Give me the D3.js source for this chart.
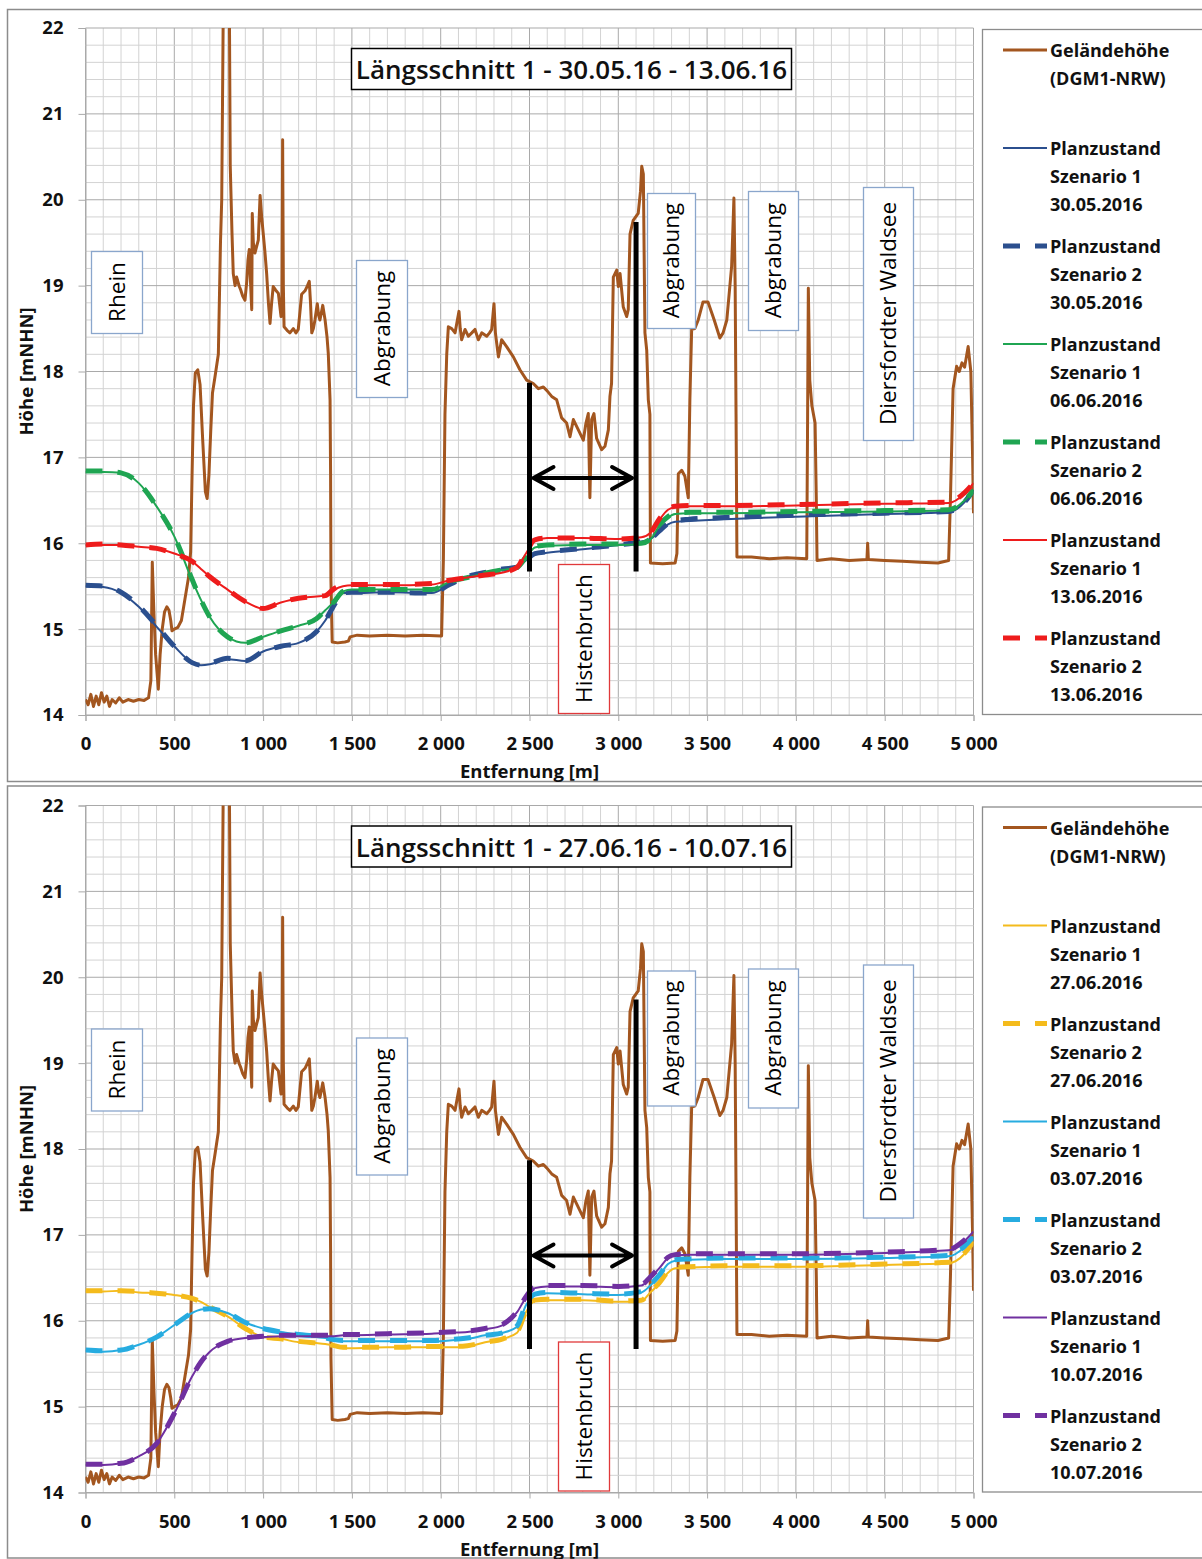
<!DOCTYPE html>
<html>
<head>
<meta charset="utf-8">
<script src="https://cdn.jsdelivr.net/npm/d3@7"></script>
<style>
  body { margin: 0; background: #fff; }
  svg { display: block; font-family: "Open Sans", "DejaVu Sans", sans-serif; }
</style>
</head>
<body>
<svg id="chart" width="1202" height="1559"></svg>
<script>
// distance [m] of the water level points
var wx = [0, 100, 200, 300, 400, 500, 600, 650, 700, 800, 900, 1000, 1100, 1200, 1300, 1350, 1400, 1450, 1500, 1700,
  1950, 2050, 2150, 2250, 2350, 2430, 2480, 2530, 2600, 2800, 3000, 3130, 3180, 3230, 3280, 3320, 3400, 3600, 4000, 4500,
  4860, 4950, 5000];

// panel 1 : 30.05.16 - 13.06.16
var s1_300516 = [15.50, 15.49, 15.42, 15.26, 15.03, 14.80, 14.61, 14.58, 14.59, 14.65, 14.63, 14.74, 14.80, 14.84, 14.97, 15.10, 15.28, 15.42, 15.42, 15.43,
  15.42, 15.52, 15.61, 15.66, 15.70, 15.72, 15.80, 15.87, 15.89, 15.93, 15.98, 16.02, 16.05, 16.13, 16.22, 16.25, 16.26, 16.28, 16.31, 16.34,
  16.36, 16.48, 16.62];
var s2_300516 = [15.51, 15.50, 15.43, 15.27, 15.04, 14.80, 14.61, 14.58, 14.60, 14.66, 14.63, 14.74, 14.80, 14.84, 14.97, 15.10, 15.28, 15.42, 15.43, 15.43,
  15.42, 15.52, 15.61, 15.66, 15.70, 15.72, 15.80, 15.88, 15.90, 15.94, 15.98, 16.02, 16.05, 16.14, 16.23, 16.26, 16.28, 16.30, 16.33, 16.35,
  16.37, 16.48, 16.62];
var s1_060616 = [16.83, 16.83, 16.82, 16.70, 16.43, 16.08, 15.57, 15.34, 15.14, 14.91, 14.84, 14.91, 14.98, 15.04, 15.12, 15.22, 15.32, 15.44, 15.46, 15.46,
  15.46, 15.55, 15.60, 15.65, 15.69, 15.72, 15.83, 15.95, 15.97, 15.98, 15.98, 15.99, 16.04, 16.20, 16.30, 16.34, 16.35, 16.35, 16.36, 16.37,
  16.38, 16.50, 16.62];
var s2_060616 = [16.84, 16.84, 16.82, 16.70, 16.43, 16.08, 15.58, 15.34, 15.14, 14.91, 14.84, 14.91, 14.98, 15.04, 15.12, 15.22, 15.32, 15.44, 15.46, 15.46,
  15.46, 15.55, 15.60, 15.65, 15.69, 15.72, 15.84, 15.96, 15.98, 15.99, 15.99, 16.00, 16.05, 16.21, 16.31, 16.35, 16.36, 16.36, 16.37, 16.38,
  16.39, 16.50, 16.62];
var s1_130616 = [15.98, 15.98, 15.98, 15.96, 15.94, 15.88, 15.79, 15.70, 15.61, 15.46, 15.32, 15.24, 15.31, 15.36, 15.38, 15.39, 15.46, 15.50, 15.51, 15.51,
  15.52, 15.57, 15.60, 15.63, 15.66, 15.72, 15.88, 16.03, 16.06, 16.06, 16.05, 16.07, 16.12, 16.27, 16.39, 16.42, 16.43, 16.43, 16.44, 16.46,
  16.47, 16.58, 16.70];
var s2_130616 = [15.98, 15.99, 15.98, 15.96, 15.94, 15.88, 15.79, 15.70, 15.61, 15.46, 15.32, 15.24, 15.31, 15.36, 15.38, 15.39, 15.47, 15.51, 15.52, 15.52,
  15.53, 15.57, 15.60, 15.63, 15.66, 15.72, 15.89, 16.04, 16.06, 16.06, 16.05, 16.07, 16.12, 16.28, 16.40, 16.43, 16.44, 16.44, 16.45, 16.47,
  16.48, 16.59, 16.70];

// panel 2 : 27.06.16 - 10.07.16
var s1_270616 = [16.34, 16.34, 16.35, 16.33, 16.32, 16.30, 16.26, 16.22, 16.16, 16.05, 15.91, 15.81, 15.79, 15.75, 15.74, 15.73, 15.71, 15.68, 15.68, 15.69,
  15.69, 15.69, 15.70, 15.75, 15.79, 15.86, 16.10, 16.23, 16.24, 16.24, 16.22, 16.23, 16.33, 16.43, 16.56, 16.61, 16.62, 16.63, 16.63, 16.65,
  16.67, 16.78, 16.92];
var s2_270616 = [16.35, 16.35, 16.35, 16.34, 16.32, 16.30, 16.26, 16.22, 16.16, 16.05, 15.91, 15.81, 15.79, 15.76, 15.74, 15.73, 15.71, 15.69, 15.69, 15.69,
  15.70, 15.70, 15.71, 15.75, 15.79, 15.87, 16.11, 16.24, 16.25, 16.25, 16.23, 16.24, 16.34, 16.44, 16.57, 16.62, 16.63, 16.64, 16.64, 16.66,
  16.68, 16.79, 16.92];
var s1_030716 = [15.65, 15.64, 15.66, 15.72, 15.81, 15.95, 16.09, 16.13, 16.14, 16.09, 15.98, 15.91, 15.87, 15.84, 15.81, 15.80, 15.78, 15.76, 15.76, 15.76,
  15.76, 15.77, 15.79, 15.83, 15.86, 15.93, 16.18, 16.30, 16.32, 16.31, 16.30, 16.33, 16.41, 16.52, 16.66, 16.70, 16.71, 16.72, 16.72, 16.73,
  16.75, 16.86, 16.98];
var s2_030716 = [15.66, 15.65, 15.66, 15.72, 15.81, 15.95, 16.09, 16.13, 16.14, 16.09, 15.98, 15.91, 15.87, 15.84, 15.82, 15.80, 15.78, 15.77, 15.77, 15.77,
  15.77, 15.78, 15.80, 15.83, 15.86, 15.94, 16.19, 16.31, 16.33, 16.32, 16.31, 16.34, 16.42, 16.53, 16.67, 16.71, 16.72, 16.73, 16.73, 16.74,
  16.76, 16.87, 16.98];
var s1_100716 = [14.32, 14.32, 14.34, 14.42, 14.57, 14.92, 15.35, 15.52, 15.64, 15.76, 15.80, 15.81, 15.82, 15.82, 15.82, 15.82, 15.82, 15.83, 15.83, 15.84,
  15.85, 15.86, 15.87, 15.90, 15.95, 16.10, 16.27, 16.38, 16.40, 16.40, 16.39, 16.41, 16.50, 16.61, 16.73, 16.76, 16.77, 16.77, 16.77, 16.79,
  16.82, 16.93, 17.04];
var s2_100716 = [14.33, 14.33, 14.34, 14.42, 14.57, 14.92, 15.35, 15.52, 15.64, 15.76, 15.80, 15.82, 15.83, 15.83, 15.83, 15.83, 15.83, 15.84, 15.84, 15.85,
  15.86, 15.87, 15.88, 15.91, 15.96, 16.11, 16.28, 16.39, 16.41, 16.41, 16.40, 16.42, 16.51, 16.62, 16.74, 16.77, 16.78, 16.78, 16.78, 16.80,
  16.83, 16.94, 17.04];

// ground profile (DGM1-NRW), same in both panels
var terrainX = [0, 15, 30, 45, 60, 75, 90, 105, 120, 135, 150, 170, 190, 210, 240, 270, 300, 330, 355, 368,
  376, 385, 395, 410, 420, 432, 445, 458, 470, 480, 487, 500, 520, 540, 560, 580, 592, 600, 608, 618,
  632, 645, 660, 675, 685, 695, 705, 715, 730, 748, 760, 767, 776, 810,
  815, 825, 832, 842, 851, 866, 874, 885, 898, 908, 915, 922, 930, 936, 939, 945, 954, 963, 973, 983,
  992, 1001, 1010, 1020, 1030, 1039, 1048, 1057, 1070, 1086, 1101, 1106, 1110, 1114, 1118, 1135, 1151, 1170, 1185, 1198,
  1210, 1217, 1236, 1250, 1260, 1267, 1274, 1283, 1292, 1305, 1313, 1320, 1336, 1349, 1360, 1367, 1377, 1380, 1382, 1389,
  1420, 1460, 1480, 1490, 1530, 1600, 1700, 1800, 1900, 2005, 2015, 2024, 2034, 2043, 2062, 2081, 2094, 2103, 2110, 2118,
  2137, 2156, 2175, 2193, 2212, 2231, 2259, 2275, 2287, 2300, 2308, 2325, 2343, 2371, 2409, 2446, 2484, 2521, 2550, 2578,
  2597, 2625, 2653, 2681, 2709, 2728, 2747, 2775, 2803, 2818, 2831, 2840, 2850, 2863, 2878, 2906, 2925, 2944, 2953, 2962,
  2972, 2991, 3000, 3010, 3028, 3047, 3056, 3066, 3084, 3112, 3125, 3132, 3141, 3150, 3160, 3169, 3178, 3181, 3250, 3320,
  3330, 3338, 3357, 3375, 3394, 3403, 3413, 3431, 3450, 3477, 3505, 3540, 3572, 3590, 3611, 3638, 3651, 3658, 3663, 3668,
  3750, 3850, 3950, 4061, 4066, 4070, 4078, 4090, 4108, 4115, 4119, 4200, 4300, 4400, 4404, 4408, 4500, 4600, 4700, 4800,
  4860, 4870, 4885, 4905, 4920, 4935, 4950, 4970, 4985, 4995, 5000];
var terrainZ = [14.18, 14.12, 14.24, 14.10, 14.22, 14.12, 14.26, 14.15, 14.22, 14.10, 14.18, 14.14, 14.20, 14.15, 14.18, 14.16, 14.18, 14.17, 14.20, 14.40,
  15.78, 15.20, 14.70, 14.30, 14.70, 15.00, 15.20, 15.26, 15.22, 15.10, 14.98, 15.00, 15.02, 15.10, 15.35, 15.60, 15.90, 16.80, 17.60, 17.98,
  18.02, 17.85, 17.20, 16.60, 16.52, 16.80, 17.30, 17.75, 17.95, 18.20, 19.50, 20.00, 22.30, 22.30,
  20.40, 19.60, 19.14, 19.00, 19.10, 18.99, 18.95, 18.88, 18.83, 19.05, 19.30, 19.42, 19.00, 18.72, 19.84, 19.50, 19.38, 19.45, 19.53, 20.05,
  19.80, 19.60, 19.40, 19.14, 18.80, 18.56, 18.80, 18.99, 18.95, 18.91, 18.64, 18.80, 20.70, 19.00, 18.52, 18.48, 18.45, 18.50, 18.45, 18.49,
  18.75, 18.90, 18.94, 19.00, 19.05, 18.80, 18.45, 18.50, 18.60, 18.79, 18.65, 18.60, 18.77, 18.60, 18.40, 18.21, 17.67, 16.80, 15.57, 14.85,
  14.84, 14.85, 14.86, 14.91, 14.93, 14.92, 14.93, 14.92, 14.93, 14.92, 15.80, 17.50, 18.20, 18.52, 18.50, 18.45, 18.60, 18.70, 18.50, 18.37,
  18.49, 18.41, 18.45, 18.49, 18.37, 18.45, 18.41, 18.45, 18.49, 18.79, 18.45, 18.17, 18.37, 18.29, 18.17, 18.02, 17.90, 17.86, 17.80, 17.82,
  17.78, 17.71, 17.67, 17.46, 17.40, 17.24, 17.44, 17.32, 17.20, 17.40, 17.51, 16.53, 17.44, 17.51, 17.22, 17.09, 17.13, 17.32, 17.71, 17.86,
  19.10, 19.18, 18.99, 19.14, 18.75, 18.64, 18.72, 19.60, 19.76, 19.84, 20.10, 20.39, 20.30, 18.45, 18.25, 17.67, 17.50, 15.77, 15.76, 15.77,
  15.88, 16.81, 16.85, 16.78, 16.53, 17.67, 18.49, 18.50, 18.60, 18.81, 18.81, 18.60, 18.39, 18.45, 18.60, 19.22, 20.02, 19.00, 17.50, 15.84,
  15.84, 15.82, 15.83, 15.82, 17.50, 18.97, 17.90, 17.60, 17.40, 16.50, 15.80, 15.82, 15.80, 15.81, 16.00, 15.81, 15.80, 15.79, 15.78, 15.77,
  15.80, 16.50, 17.80, 18.06, 18.00, 18.10, 18.05, 18.29, 18.00, 17.00, 16.35];

var yTickValues = [14, 15, 16, 17, 18, 19, 20, 21, 22];
var xTickValues = [0, 500, 1000, 1500, 2000, 2500, 3000, 3500, 4000, 4500, 5000];

// Histenbruch markers [m] and the arrow height
var markerX = [2500, 3100];
var markerTop = [17.87, 19.74];
var markerBottom = 15.67;
var arrowZ = 16.76;

var panels = [
  {
    top: 0,
    title: "Längsschnitt 1 - 30.05.16 - 13.06.16",
    series: [
      { label: ["Planzustand", "Szenario 1", "30.05.2016"], values: s1_300516, color: "#2b4f8e", dashed: false },
      { label: ["Planzustand", "Szenario 2", "30.05.2016"], values: s2_300516, color: "#2b4f8e", dashed: true },
      { label: ["Planzustand", "Szenario 1", "06.06.2016"], values: s1_060616, color: "#1fa552", dashed: false },
      { label: ["Planzustand", "Szenario 2", "06.06.2016"], values: s2_060616, color: "#1fa552", dashed: true },
      { label: ["Planzustand", "Szenario 1", "13.06.2016"], values: s1_130616, color: "#ee1c1c", dashed: false },
      { label: ["Planzustand", "Szenario 2", "13.06.2016"], values: s2_130616, color: "#ee1c1c", dashed: true }
    ]
  },
  {
    top: 777.5,
    title: "Längsschnitt 1 - 27.06.16 - 10.07.16",
    series: [
      { label: ["Planzustand", "Szenario 1", "27.06.2016"], values: s1_270616, color: "#f4bb1c", dashed: false },
      { label: ["Planzustand", "Szenario 2", "27.06.2016"], values: s2_270616, color: "#f4bb1c", dashed: true },
      { label: ["Planzustand", "Szenario 1", "03.07.2016"], values: s1_030716, color: "#27ace0", dashed: false },
      { label: ["Planzustand", "Szenario 2", "03.07.2016"], values: s2_030716, color: "#27ace0", dashed: true },
      { label: ["Planzustand", "Szenario 1", "10.07.2016"], values: s1_100716, color: "#7030a0", dashed: false },
      { label: ["Planzustand", "Szenario 2", "10.07.2016"], values: s2_100716, color: "#7030a0", dashed: true }
    ]
  }
];

// text boxes placed on the chart (pixel layout inside a panel)
var notes = [
  { text: "Rhein", x: 91, y: 251, w: 51, h: 82, stroke: "#8aa6cc" },
  { text: "Abgrabung", x: 356, y: 260, w: 51, h: 137, stroke: "#8aa6cc" },
  { text: "Abgrabung", x: 647, y: 193, w: 48, h: 135, stroke: "#8aa6cc" },
  { text: "Abgrabung", x: 748, y: 191, w: 50, h: 139, stroke: "#8aa6cc" },
  { text: "Diersfordter Waldsee", x: 863, y: 187, w: 50, h: 253, stroke: "#8aa6cc" },
  { text: "Histenbruch", x: 558, y: 564, w: 51, h: 149, stroke: "#e0393b" }
];

var terrainColor = "#a3561f";
var gridMinor = "#d3d3d3";
var gridMajor = "#a9a9a9";

var svg = d3.select("#chart");

var xScale = d3.scaleLinear().domain([0, 5000]).range([85.5, 973.5]);
var yScale = d3.scaleLinear().domain([14, 22]).range([715, 28]);

var deLocale = d3.formatLocale({ decimal: ",", thousands: " ", grouping: [3], currency: ["", " €"] });
var xFormat = deLocale.format(",d");

var terrain = terrainX.map(function(d, i) {
  return { x: d, z: terrainZ[i] };
});

var lineGen = d3
  .line()
  .x(function(d) { return xScale(d.x); })
  .y(function(d) { return yScale(d.z); });

var smoothLine = d3
  .line()
  .curve(d3.curveMonotoneX)
  .x(function(d) { return xScale(d.x); })
  .y(function(d) { return yScale(d.z); });

panels.forEach(function(p, pi) {
  var g = svg.append("g").attr("transform", "translate(0," + p.top + ")");

  // outer chart frame
  g.append("rect")
    .attr("x", 7.5)
    .attr("y", pi === 0 ? 9.5 : 8.5)
    .attr("width", 1200)
    .attr("height", 772)
    .attr("fill", "#fff")
    .attr("stroke", "#8c8c8c")
    .attr("stroke-width", 1.5);

  // grid
  var grid = g.append("g").attr("class", "grid");
  grid.selectAll(".vx")
    .data(d3.range(0, 5001, 100))
    .enter()
    .append("line")
    .attr("x1", function(d) { return xScale(d); })
    .attr("x2", function(d) { return xScale(d); })
    .attr("y1", yScale(14))
    .attr("y2", yScale(22))
    .attr("stroke", function(d) { return d % 500 === 0 ? gridMajor : gridMinor; })
    .attr("stroke-width", 1);
  grid.selectAll(".hy")
    .data(d3.range(0, 41))
    .enter()
    .append("line")
    .attr("x1", xScale(0))
    .attr("x2", xScale(5000))
    .attr("y1", function(d) { return yScale(14 + d * 0.2); })
    .attr("y2", function(d) { return yScale(14 + d * 0.2); })
    .attr("stroke", function(d) { return d % 5 === 0 ? gridMajor : gridMinor; })
    .attr("stroke-width", 1);

  // axes
  var yAxis = d3.axisLeft(yScale).tickValues(yTickValues).tickSize(7).tickPadding(15).tickFormat(d3.format("d"));
  var xAxis = d3.axisBottom(xScale).tickValues(xTickValues).tickSize(6).tickPadding(16).tickFormat(xFormat);

  var yAxisGroup = g.append("g")
    .attr("transform", "translate(" + xScale(0) + ",0)")
    .call(yAxis);
  var xAxisGroup = g.append("g")
    .attr("transform", "translate(0," + yScale(14) + ")")
    .call(xAxis);
  [yAxisGroup, xAxisGroup].forEach(function(a) {
    a.select(".domain").attr("stroke", gridMajor);
    a.selectAll(".tick line").attr("stroke", gridMajor);
    a.selectAll("text")
      .attr("fill", "#111")
      .style("font-family", "'Open Sans', sans-serif")
      .style("font-size", "18.5px")
      .style("font-weight", "bold");
  });

  g.append("text")
    .attr("transform", "translate(33," + yScale(18) + ") rotate(-90)")
    .attr("text-anchor", "middle")
    .style("font-size", "18.5px")
    .style("font-weight", "bold")
    .attr("fill", "#111")
    .text("Höhe [mNHN]");

  g.append("text")
    .attr("x", (xScale(0) + xScale(5000)) / 2)
    .attr("y", 778)
    .attr("text-anchor", "middle")
    .style("font-size", "18.5px")
    .style("font-weight", "bold")
    .attr("fill", "#111")
    .text("Entfernung [m]");

  // lines, clipped to the plot area
  var clipId = "clip" + pi;
  g.append("clipPath")
    .attr("id", clipId)
    .append("rect")
    .attr("x", xScale(0))
    .attr("y", yScale(22))
    .attr("width", xScale(5000) - xScale(0))
    .attr("height", yScale(14) - yScale(22));

  var plot = g.append("g").attr("clip-path", "url(#" + clipId + ")");

  plot.append("path")
    .datum(terrain)
    .attr("d", lineGen)
    .attr("fill", "none")
    .attr("stroke", terrainColor)
    .attr("stroke-width", 3)
    .attr("stroke-linejoin", "round");

  p.series.forEach(function(s) {
    var pts = wx.map(function(d, i) {
      return { x: d, z: s.values[i] };
    });
    plot.append("path")
      .datum(pts)
      .attr("d", smoothLine)
      .attr("fill", "none")
      .attr("stroke", s.color)
      .attr("stroke-width", s.dashed ? 5 : 2)
      .attr("stroke-dasharray", s.dashed ? "17,15" : null);
  });

  // Histenbruch markers and arrow
  markerX.forEach(function(m, i) {
    g.append("line")
      .attr("x1", xScale(m))
      .attr("x2", xScale(m))
      .attr("y1", yScale(markerTop[i]))
      .attr("y2", yScale(markerBottom))
      .attr("stroke", "#000")
      .attr("stroke-width", 5);
  });
  var ay = yScale(arrowZ);
  var ax0 = xScale(markerX[0]) + 4;
  var ax1 = xScale(markerX[1]) - 4;
  g.append("path")
    .attr("d", "M" + ax0 + "," + ay + "H" + ax1 +
      "M" + (ax0 + 20) + "," + (ay - 11) + "L" + ax0 + "," + ay + "L" + (ax0 + 20) + "," + (ay + 11) +
      "M" + (ax1 - 20) + "," + (ay - 11) + "L" + ax1 + "," + ay + "L" + (ax1 - 20) + "," + (ay + 11))
    .attr("fill", "none")
    .attr("stroke", "#000")
    .attr("stroke-width", 4)
    .attr("stroke-linecap", "round")
    .attr("stroke-linejoin", "round");

  // text boxes
  notes.forEach(function(n) {
    g.append("rect")
      .attr("x", n.x + 0.5)
      .attr("y", n.y + 0.5)
      .attr("width", n.w)
      .attr("height", n.h)
      .attr("fill", "#fff")
      .attr("stroke", n.stroke)
      .attr("stroke-width", 1.3);
    g.append("text")
      .attr("transform", "translate(" + (n.x + n.w / 2 + 8) + "," + (n.y + n.h / 2) + ") rotate(-90)")
      .attr("text-anchor", "middle")
      .style("font-size", "22.5px")
      .attr("fill", "#000")
      .text(n.text);
  });

  // title box
  g.append("rect")
    .attr("x", 351.5)
    .attr("y", 48.5)
    .attr("width", 440)
    .attr("height", 41)
    .attr("fill", "#fff")
    .attr("stroke", "#000")
    .attr("stroke-width", 1.5);
  g.append("text")
    .attr("x", 571.5)
    .attr("y", 79)
    .attr("text-anchor", "middle")
    .style("font-size", "26px")
    .style("font-weight", "600")
    .attr("fill", "#111")
    .text(p.title);

  // legend
  var leg = g.append("g");
  leg.append("rect")
    .attr("x", 982.5)
    .attr("y", 29.5)
    .attr("width", 230)
    .attr("height", 685)
    .attr("fill", "#fff")
    .attr("stroke", "#8c8c8c")
    .attr("stroke-width", 1.3);

  var entries = [{ label: ["Geländehöhe", "(DGM1-NRW)"], color: terrainColor, dashed: false, width: 3 }].concat(
    p.series.map(function(s) {
      return { label: s.label, color: s.color, dashed: s.dashed, width: s.dashed ? 5 : 2 };
    })
  );

  entries.forEach(function(e, i) {
    var ey = 50 + i * 98;
    leg.append("line")
      .attr("x1", 1003)
      .attr("x2", 1047)
      .attr("y1", ey)
      .attr("y2", ey)
      .attr("stroke", e.color)
      .attr("stroke-width", e.width)
      .attr("stroke-dasharray", e.dashed ? "17,15" : null);
    e.label.forEach(function(t, j) {
      leg.append("text")
        .attr("x", 1050)
        .attr("y", ey + 7 + j * 28)
        .style("font-size", "18px")
        .style("font-weight", "bold")
        .attr("fill", "#111")
        .text(t);
    });
  });
});
</script>
</body>
</html>
